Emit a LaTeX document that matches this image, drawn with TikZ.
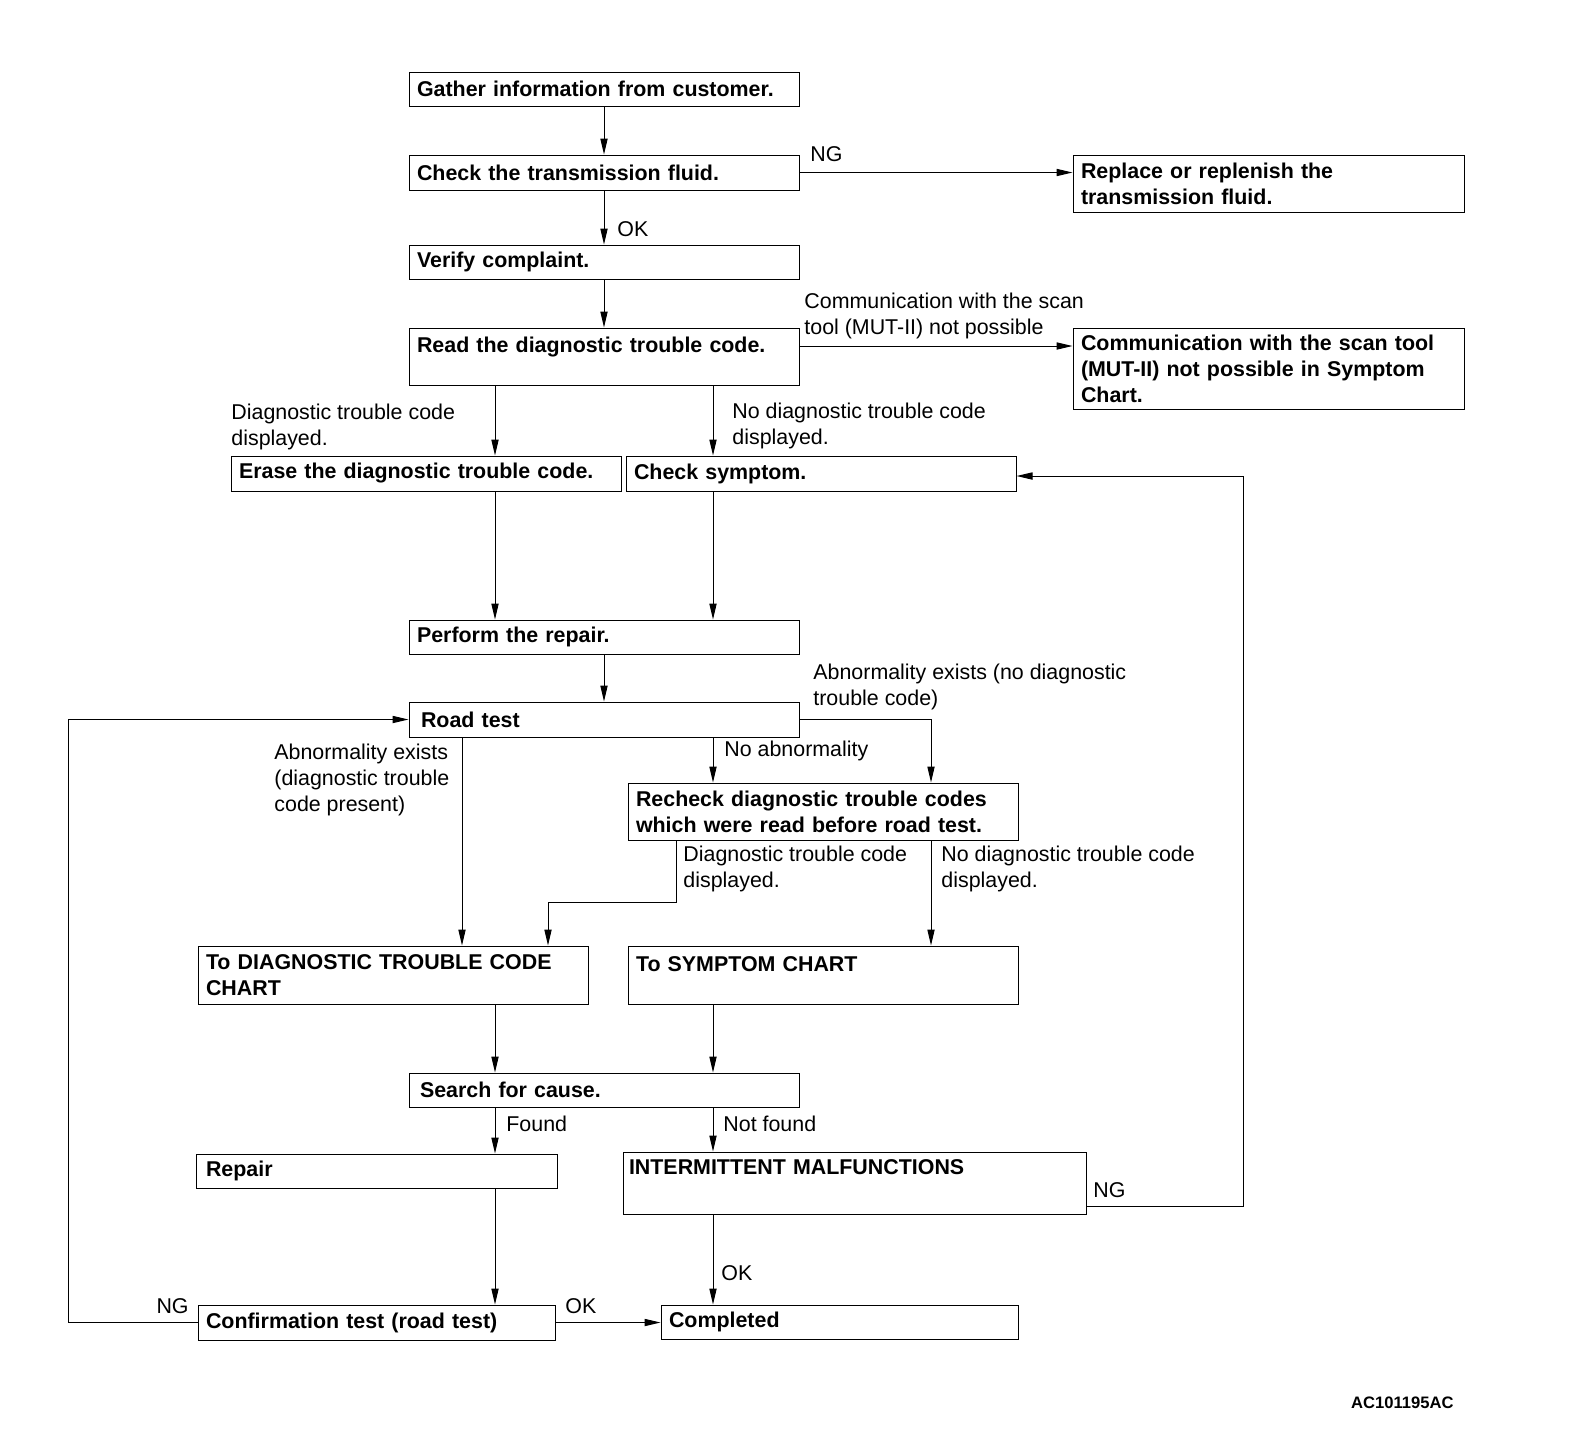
\documentclass[tikz,border=0pt]{standalone}
\usepackage{fontspec}
\setmainfont{Liberation Sans}
\usepackage{tikz}
\usetikzlibrary{arrows.meta}

\newcommand{\stepfont}{\bfseries\fontsize{10.7}{13}\selectfont}
\newcommand{\notefont}{\fontsize{10.7}{13}\selectfont}

\tikzset{
  stepbox/.style={draw, line width=0.5pt, font=\stepfont, align=left,
    inner xsep=4pt, inner ysep=0pt, text width=#1},
  stepbox/.default=187pt,
  note/.style={font=\notefont, align=left, inner sep=0pt, anchor=west},
  flow/.style={line width=0.5pt, -{Triangle[length=8pt,width=3.6pt]}},
  wire/.style={line width=0.5pt}
}

\begin{document}
\begin{tikzpicture}[x=0.5pt,y=0.5pt,yscale=-1,xscale=1]
\useasboundingbox (0,0) rectangle (1584,1452);

% columns and rows of the connectors
\coordinate (xA) at (462,0);
\coordinate (xL) at (495,0);
\coordinate (xS) at (548,0);
\coordinate (xT) at (676,0);
\coordinate (xR) at (713,0);
\coordinate (xW) at (931,0);
\coordinate (xE) at (68,0);
\coordinate (xF) at (1243,0);
\coordinate (yC) at (0,346);
\coordinate (yD) at (0,902);
\coordinate (yN) at (0,1206);
\coordinate (yS) at (0,476);

% Boxes
\node[stepbox, minimum height=17pt] (gather) at (604,89) {Gather information from customer.};
\node[stepbox, minimum height=17.5pt] (fluid) at (604,172.5) {Check the transmission fluid.};
\node[stepbox=187.5pt, minimum height=28.5pt] (replace) at (1268.5,183.5) {Replace or replenish the\\transmission fluid.};
\node[stepbox, minimum height=17pt] (verify) at (604,262) {Verify complaint.};
\node[stepbox, minimum height=28.5pt, text height=8pt, text depth=12pt] (read) at (604,356.5) {Read the diagnostic trouble code.};
\node[stepbox=187.5pt, minimum height=40.5pt] (comm) at (1268.5,368.5) {Communication with the scan tool\\(MUT-II) not possible in Symptom\\Chart.};
\node[stepbox, minimum height=17.5pt] (erase) at (426,473.5) {Erase the diagnostic trouble code.};
\node[stepbox, minimum height=17.5pt] (symptom) at (821,473.5) {Check symptom.};
\node[stepbox, minimum height=17pt] (perform) at (604,637) {Perform the repair.};
\node[stepbox, minimum height=17.5pt, inner xsep=6pt, text width=183pt] (road) at (604,719.5) {Road test};
\node[stepbox, minimum height=28.5pt] (recheck) at (823,811.5) {Recheck diagnostic trouble codes\\which were read before road test.};
\node[stepbox, minimum height=29pt] (dtcchart) at (393,975) {To DIAGNOSTIC TROUBLE CODE\\CHART};
\node[stepbox, minimum height=29pt, text height=8pt, text depth=11.4pt] (sympchart) at (823,975) {To SYMPTOM CHART};
\node[stepbox, minimum height=17pt, inner xsep=5.5pt, text width=184pt] (search) at (604,1090) {Search for cause.};
\node[stepbox=170.5pt, minimum height=17pt, inner xsep=5pt] (repair) at (376.5,1171) {Repair};
\node[stepbox=225.5pt, minimum height=31pt, inner xsep=3pt, text height=8pt, text depth=16.4pt] (interm) at (854.5,1183) {INTERMITTENT MALFUNCTIONS};
\node[stepbox=170.5pt, minimum height=17.5pt] (confirm) at (376.5,1322.5) {Confirmation test (road test)};
\node[stepbox=170.5pt, minimum height=17pt] (completed) at (839.5,1322) {Completed};

% Connectors
\draw[flow] (gather) -- (fluid);
\draw[flow] (fluid) -- (verify);
\draw[flow] (verify) -- (read);
\draw[flow] (fluid.east) -- (fluid.east -| replace.west);
\draw[flow] (read.east |- yC) -- (comm.west |- yC);
\draw[flow] (read.south -| xL) -- (erase.north -| xL);
\draw[flow] (read.south -| xR) -- (symptom.north -| xR);
\draw[flow] (erase.south -| xL) -- (perform.north -| xL);
\draw[flow] (symptom.south -| xR) -- (perform.north -| xR);
\draw[flow] (perform) -- (road);
\draw[flow] (road.south -| xR) -- (recheck.north -| xR);
\draw[flow] (road.east) -| (recheck.north -| xW);
\draw[flow] (road.south -| xA) -- (dtcchart.north -| xA);
\draw[flow] (recheck.south -| xT) -- (xT |- yD) -| (dtcchart.north -| xS);
\draw[flow] (recheck.south -| xW) -- (sympchart.north -| xW);
\draw[flow] (dtcchart.south -| xL) -- (search.north -| xL);
\draw[flow] (sympchart.south -| xR) -- (search.north -| xR);
\draw[flow] (search.south -| xL) -- (repair.north -| xL);
\draw[flow] (search.south -| xR) -- (interm.north -| xR);
\draw[flow] (repair.south -| xL) -- (confirm.north -| xL);
\draw[flow] (interm.south -| xR) -- (completed.north -| xR);
\draw[flow] (confirm.east) -- (confirm.east -| completed.west);
\draw[flow] (confirm.west) -- (confirm.west -| xE) |- (road.west);
\draw[flow] (interm.east |- yN) -- (xF |- yN) |- (symptom.east |- yS);

% Text Node
\node[note] (ngfluid) at (810,154) {NG};
\node[note] (okfluid) at (617,229) {OK};
\node[note] (lblcomm) at (804,316) {Communication with the scan\\tool (MUT-II) not possible};
\node[note] (lbldtc) at (231,427) {Diagnostic trouble code\\displayed.};
\node[note] (lblnodtc) at (732,426) {No diagnostic trouble code\\displayed.};
\node[note] (lblabn) at (813,686.5) {Abnormality exists (no diagnostic\\trouble code)};
\node[note] (lblnoabn) at (724,751) {No abnormality};
\node[note] (lblabndtc) at (274,780) {Abnormality exists\\(diagnostic trouble\\code present)};
\node[note] (lbldtcre) at (683,869) {Diagnostic trouble code\\displayed.};
\node[note] (lblnodtcre) at (941,869) {No diagnostic trouble code\\displayed.};
\node[note] (lblfound) at (506,1124) {Found};
\node[note] (lblnotfound) at (723,1124) {Not found};
\node[note] (ngint) at (1093,1190) {NG};
\node[note] (okint) at (721,1273) {OK};
\node[note] (okconf) at (565,1306) {OK};
\node[note, anchor=east] (ngconf) at (189,1306) {NG};
\node[font=\bfseries\fontsize{8.3}{10}\selectfont, inner sep=0pt, anchor=east] (figid) at (1454,1403) {AC101195AC};
\end{tikzpicture}
\end{document}
